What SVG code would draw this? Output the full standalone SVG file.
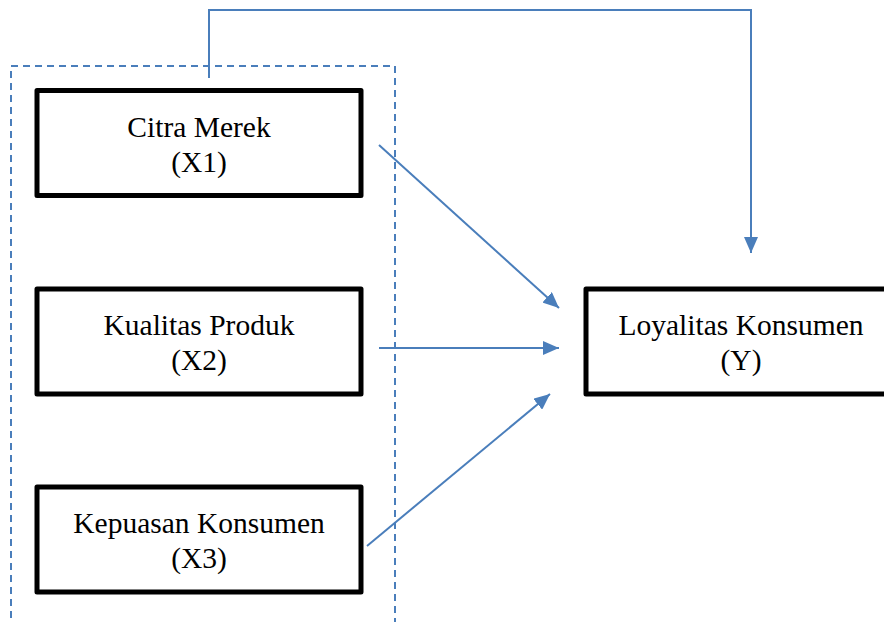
<svg xmlns="http://www.w3.org/2000/svg" width="884" height="622" viewBox="0 0 884 622">
<style>
.box{fill:#fff;stroke:#000;stroke-width:5;stroke-linejoin:round}
.lbl{font-family:"Liberation Serif","Times New Roman",serif;font-size:29.5px;fill:#000;text-anchor:middle}
.conn{fill:none;stroke:#4a7ebb;stroke-width:2}
.dash{fill:none;stroke:#4a7ebb;stroke-width:2;stroke-dasharray:7,5}
</style>
<defs>
<marker id="ah" markerWidth="16" markerHeight="14" refX="16" refY="7" orient="auto" markerUnits="userSpaceOnUse">
<path d="M0,0 L16,7 L0,14 z" fill="#4a7ebb"/>
</marker>
</defs>
<g id="group-frame">
<path class="dash" d="M11,630 L11,66 L395,66 L395,630"/>
</g>
<g id="node-x1">
<rect class="box" x="37" y="90.5" width="324" height="105"/>
<text class="lbl" x="199" y="137">Citra Merek</text>
<text class="lbl" x="199" y="172">(X1)</text>
</g>
<g id="node-x2">
<rect class="box" x="37" y="289" width="324" height="105"/>
<text class="lbl" x="199" y="335">Kualitas Produk</text>
<text class="lbl" x="199" y="370">(X2)</text>
</g>
<g id="node-x3">
<rect class="box" x="37" y="487" width="324" height="105"/>
<text class="lbl" x="199" y="533">Kepuasan Konsumen</text>
<text class="lbl" x="199" y="568">(X3)</text>
</g>
<g id="node-y">
<rect class="box" x="586" y="289" width="310" height="105"/>
<text class="lbl" x="741" y="335">Loyalitas Konsumen</text>
<text class="lbl" x="741" y="370">(Y)</text>
</g>
<g id="connectors">
<line class="conn" x1="379" y1="145" x2="559" y2="308" marker-end="url(#ah)"/>
<line class="conn" x1="379" y1="348" x2="559" y2="348" marker-end="url(#ah)"/>
<line class="conn" x1="367" y1="546" x2="550" y2="394" marker-end="url(#ah)"/>
<path class="conn" d="M209,78 L209,10 L751,10 L751,253" marker-end="url(#ah)"/>
</g>
</svg>
